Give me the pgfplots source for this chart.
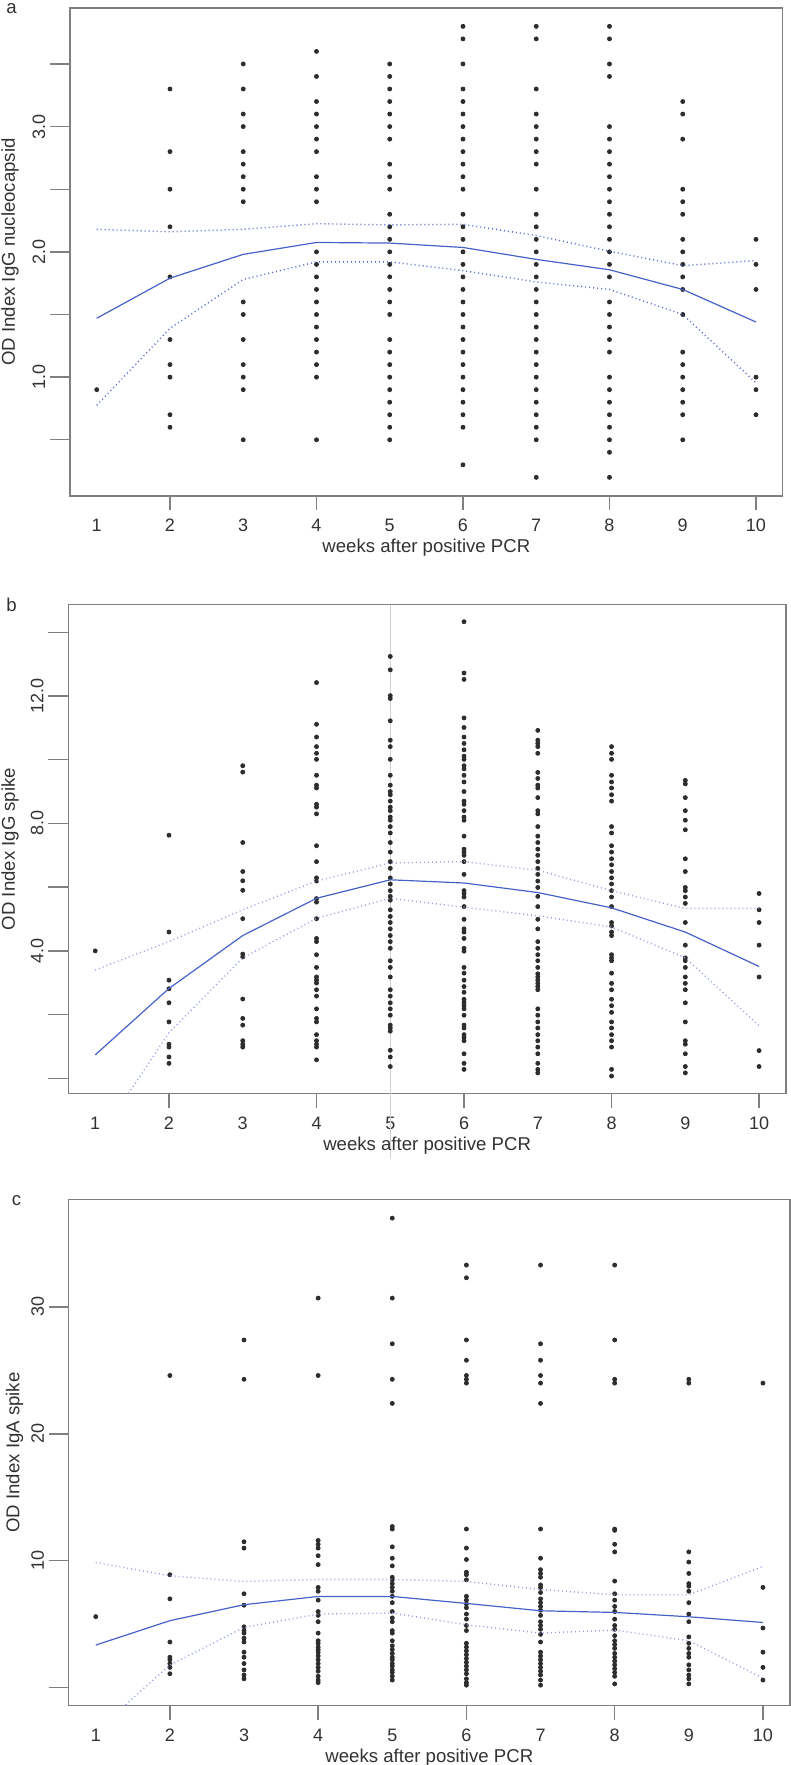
\documentclass[border=0pt]{standalone}
\usepackage{fontspec}
\setmainfont{Liberation Sans}
\usepackage{pgfplots}
\pgfplotsset{compat=1.18}
\definecolor{boxgray}{RGB}{128,128,128}
\definecolor{txtgray}{RGB}{50,50,50}
\definecolor{ptcol}{RGB}{45,45,45}
\definecolor{fitblue}{RGB}{70,98,200}
\definecolor{ciblue}{RGB}{85,105,215}
\definecolor{cilight}{RGB}{150,160,232}
\pgfplotsset{
  rpanel/.style={
    scale only axis,
    xmin=0.635, xmax=10.365,
    clip mode=individual,
    axis line style={draw=boxgray, line width=0.7pt},
    every tick/.style={draw=boxgray, line width=0.7pt},
    tick align=outside,
    tick pos=left,
    major tick length=0pt,
    xtick={1,2,3,4,5,6,7,8,9,10},
    extra x ticks={2,4,6,8,10},
    extra x tick labels={},
    extra x tick style={major tick length=7pt},
    extra y tick labels={},
    extra y tick style={major tick length=10pt},
    /pgf/number format/assume math mode=true,
    tick label style={font=\fontsize{9}{11}\selectfont, text=txtgray, inner sep=0pt},
    xticklabel style={anchor=center, yshift=-14.9pt},
    yticklabel style={anchor=center, xshift=-15.5pt, rotate=90},
    label style={font=\fontsize{9.3}{11}\selectfont, text=txtgray, inner sep=0pt},
    xlabel={weeks after positive PCR},
    xlabel style={at={(axis description cs:0.5,0)}, anchor=center, yshift=-26pt},
  },
  pts/.style={only marks, mark=*, mark size=1pt, color=ptcol, mark options={draw=ptcol, fill=ptcol}},
  fit/.style={fitblue, line width=0.6pt, no markers},
  cia/.style={ciblue, line width=0.7pt, dash pattern=on 0.5pt off 1.5pt, no markers},
  cib/.style={cilight, line width=0.7pt, dash pattern=on 0.5pt off 1.5pt, no markers},
}
\begin{document}
\begin{tikzpicture}
\path[use as bounding box] (0,0) rectangle (395.5pt,-882.5pt);
\node[font=\fontsize{9.3}{11}\selectfont, text=txtgray, inner sep=0pt] at (5.8pt,-4.5pt) {a};
\node[font=\fontsize{9.3}{11}\selectfont, text=txtgray, inner sep=0pt] at (5.8pt,-302.5pt) {b};
\node[font=\fontsize{9.3}{11}\selectfont, text=txtgray, inner sep=0pt] at (8.3pt,-600.2pt) {c};
% ---------------- panel a
\begin{axis}[rpanel, at={(35pt,-247.95pt)}, anchor=south west,
  width=356.35pt, height=243.85pt, ymin=0.052, ymax=3.945,
  ytick={1,2,3}, yticklabels={{1.0},{2.0},{3.0}},
  extra y ticks={0.5,1.0,1.5,2.0,2.5,3.0,3.5},
  ylabel={OD Index IgG nucleocapsid},
  ylabel style={at={(axis description cs:-0.0842,0.5)}, anchor=center}]
\addplot[pts] coordinates {
(1,0.9)
(2,3.3)(2,2.8)(2,2.5)(2,2.2)(2,1.8)(2,1.3)(2,1.1)(2,1.0)(2,0.7)(2,0.6)
(3,3.5)(3,3.3)(3,3.1)(3,3.0)(3,2.8)(3,2.7)(3,2.6)(3,2.5)(3,2.4)(3,1.6)(3,1.5)(3,1.3)(3,1.1)(3,1.0)(3,0.9)(3,0.5)
(4,3.6)(4,3.4)(4,3.2)(4,3.1)(4,3.0)(4,2.9)(4,2.8)(4,2.6)(4,2.5)(4,2.4)(4,2.0)(4,1.9)(4,1.8)(4,1.7)(4,1.6)(4,1.5)(4,1.4)(4,1.3)(4,1.2)(4,1.1)(4,1.0)(4,0.5)
(5,3.5)(5,3.4)(5,3.3)(5,3.2)(5,3.1)(5,3.0)(5,2.9)(5,2.7)(5,2.6)(5,2.5)(5,2.3)(5,2.2)(5,2.1)(5,2.0)(5,1.9)(5,1.8)(5,1.7)(5,1.6)(5,1.5)(5,1.3)(5,1.2)(5,1.1)(5,1.0)(5,0.9)(5,0.8)(5,0.7)(5,0.6)(5,0.5)
(6,3.8)(6,3.7)(6,3.5)(6,3.3)(6,3.2)(6,3.1)(6,3.0)(6,2.9)(6,2.8)(6,2.7)(6,2.6)(6,2.5)(6,2.3)(6,2.2)(6,2.1)(6,2.0)(6,1.9)(6,1.8)(6,1.7)(6,1.6)(6,1.5)(6,1.4)(6,1.3)(6,1.2)(6,1.1)(6,1.0)(6,0.9)(6,0.8)(6,0.7)(6,0.6)(6,0.3)
(7,3.8)(7,3.7)(7,3.3)(7,3.1)(7,3.0)(7,2.9)(7,2.8)(7,2.7)(7,2.5)(7,2.3)(7,2.2)(7,2.1)(7,2.0)(7,1.9)(7,1.8)(7,1.7)(7,1.6)(7,1.5)(7,1.4)(7,1.3)(7,1.2)(7,1.1)(7,1.0)(7,0.9)(7,0.8)(7,0.7)(7,0.6)(7,0.5)(7,0.2)
(8,3.8)(8,3.7)(8,3.5)(8,3.4)(8,3.0)(8,2.9)(8,2.8)(8,2.7)(8,2.6)(8,2.5)(8,2.4)(8,2.3)(8,2.2)(8,2.1)(8,2.0)(8,1.9)(8,1.8)(8,1.6)(8,1.5)(8,1.4)(8,1.3)(8,1.2)(8,1.0)(8,0.9)(8,0.8)(8,0.7)(8,0.6)(8,0.5)(8,0.4)(8,0.2)
(9,3.2)(9,3.1)(9,2.9)(9,2.5)(9,2.4)(9,2.3)(9,2.1)(9,2.0)(9,1.9)(9,1.8)(9,1.7)(9,1.5)(9,1.2)(9,1.1)(9,1.0)(9,0.9)(9,0.8)(9,0.7)(9,0.5)
(10,2.1)(10,1.9)(10,1.7)(10,1.0)(10,0.9)(10,0.7)
};
\addplot[fit] coordinates {(1,1.47)(2,1.79)(3,1.98)(4,2.075)(5,2.07)(6,2.035)(7,1.94)(8,1.857)(9,1.70)(10,1.44)};
\addplot[cia] coordinates {(1,2.18)(2,2.16)(3,2.18)(4,2.225)(5,2.215)(6,2.22)(7,2.13)(8,2.005)(9,1.89)(10,1.93)};
\addplot[cia] coordinates {(1,0.775)(2,1.39)(3,1.78)(4,1.92)(5,1.92)(6,1.85)(7,1.76)(8,1.70)(9,1.50)(10,0.955)};
\end{axis}
% ---------------- panel b
\begin{axis}[rpanel, at={(34.15pt,-546.8pt)}, anchor=south west,
  width=358.85pt, height=244.55pt, ymin=-0.48, ymax=14.87,
  ytick={4,8,12}, yticklabels={{4.0},{8.0},{12.0}},
  extra y ticks={0,2,4,6,8,10,12,14},
  ylabel={OD Index IgG spike},
  ylabel style={at={(axis description cs:-0.0812,0.5)}, anchor=center}]
\draw[black!18, line width=0.4pt] (axis cs:5,14.87) -- (axis cs:5,-2.5);
\addplot[pts] coordinates {
(1,4.0)
(2,7.63)(2,4.59)(2,3.08)(2,2.81)(2,2.37)(2,1.77)(2,1.07)(2,0.98)(2,0.67)(2,0.47)
(3,9.81)(3,9.61)(3,7.40)(3,6.49)(3,6.20)(3,5.90)(3,5.01)(3,3.90)(3,3.81)(3,2.49)(3,1.88)(3,1.67)(3,1.18)(3,1.07)(3,0.98)
(4,12.42)(4,11.11)(4,10.71)(4,10.41)(4,10.20)(4,10.01)(4,9.51)(4,9.20)(4,9.11)(4,8.60)(4,8.51)(4,8.30)(4,7.30)(4,6.80)(4,6.29)(4,6.19)(4,5.64)(4,5.53)(4,5.01)(4,4.39)(4,4.29)(4,3.88)(4,3.48)(4,3.18)(4,3.08)(4,2.99)(4,2.78)(4,2.58)(4,2.18)(4,1.88)(4,1.77)(4,1.37)(4,1.18)(4,1.07)(4,0.98)(4,0.58)
(5,13.24)(5,12.82)(5,12.01)(5,11.92)(5,11.22)(5,10.61)(5,10.41)(5,10.01)(5,9.51)(5,9.20)(5,9.00)(5,8.90)(5,8.70)(5,8.51)(5,8.40)(5,8.20)(5,8.10)(5,7.90)(5,7.70)(5,7.40)(5,7.10)(5,6.80)(5,6.59)(5,6.29)(5,6.10)(5,5.89)(5,5.71)(5,5.59)(5,5.29)(5,5.08)(5,4.89)(5,4.69)(5,4.48)(5,4.29)(5,4.08)(5,3.69)(5,3.48)(5,3.18)(5,2.78)(5,2.58)(5,2.37)(5,2.18)(5,1.98)(5,1.67)(5,1.58)(5,1.48)(5,0.88)(5,0.67)(5,0.37)
(6,14.33)(6,12.72)(6,12.52)(6,11.31)(6,11.01)(6,10.71)(6,10.51)(6,10.31)(6,10.11)(6,10.01)(6,9.81)(6,9.71)(6,9.51)(6,9.30)(6,9.00)(6,8.70)(6,8.60)(6,8.40)(6,8.20)(6,8.10)(6,7.60)(6,7.19)(6,7.10)(6,7.00)(6,6.80)(6,6.40)(6,5.89)(6,5.80)(6,5.69)(6,5.39)(6,4.99)(6,4.69)(6,4.59)(6,4.39)(6,4.08)(6,3.99)(6,3.48)(6,3.30)(6,3.08)(6,2.88)(6,2.70)(6,2.48)(6,2.37)(6,2.28)(6,2.18)(6,1.98)(6,1.67)(6,1.58)(6,1.37)(6,1.28)(6,1.18)(6,0.77)(6,0.47)(6,0.28)
(7,10.92)(7,10.61)(7,10.51)(7,10.41)(7,10.20)(7,9.60)(7,9.41)(7,9.20)(7,9.11)(7,8.81)(7,8.40)(7,8.30)(7,7.90)(7,7.60)(7,7.40)(7,7.19)(7,7.00)(7,6.80)(7,6.59)(7,6.40)(7,6.19)(7,5.99)(7,5.71)(7,5.39)(7,4.99)(7,4.69)(7,4.29)(7,4.08)(7,3.88)(7,3.69)(7,3.48)(7,3.28)(7,3.18)(7,3.08)(7,2.98)(7,2.88)(7,2.78)(7,2.18)(7,1.98)(7,1.77)(7,1.58)(7,1.37)(7,1.18)(7,0.98)(7,0.77)(7,0.47)(7,0.28)(7,0.17)
(8,10.41)(8,10.20)(8,10.01)(8,9.51)(8,9.30)(8,9.11)(8,8.90)(8,8.70)(8,7.90)(8,7.70)(8,7.30)(8,7.10)(8,6.89)(8,6.70)(8,6.49)(8,6.29)(8,6.10)(8,5.89)(8,5.69)(8,5.39)(8,4.89)(8,4.78)(8,4.59)(8,4.48)(8,3.88)(8,3.78)(8,3.69)(8,3.30)(8,2.98)(8,2.78)(8,2.48)(8,2.28)(8,2.07)(8,1.77)(8,1.58)(8,1.37)(8,1.18)(8,0.98)(8,0.28)(8,0.07)
(9,9.35)(9,9.24)(9,8.81)(9,8.40)(9,8.10)(9,7.80)(9,6.89)(9,6.49)(9,5.99)(9,5.89)(9,5.69)(9,5.49)(9,4.89)(9,4.18)(9,3.78)(9,3.69)(9,3.48)(9,3.18)(9,2.98)(9,2.78)(9,2.37)(9,1.77)(9,1.18)(9,1.07)(9,0.77)(9,0.37)(9,0.17)
(10,5.80)(10,5.29)(10,4.89)(10,4.18)(10,3.18)(10,0.87)(10,0.37)
};
\addplot[fit] coordinates {(1,0.735)(2,2.82)(3,4.48)(4,5.65)(5,6.23)(6,6.13)(7,5.83)(8,5.35)(9,4.59)(10,3.51)};
\addplot[cib] coordinates {(1,3.40)(2,4.29)(3,5.29)(4,6.19)(5,6.76)(6,6.80)(7,6.53)(8,5.89)(9,5.33)(10,5.33)};
\addplot[cib] coordinates {(1,-2.04)(2,1.43)(3,3.78)(4,5.02)(5,5.65)(6,5.37)(7,5.10)(8,4.75)(9,3.78)(10,1.65)};
\end{axis}
% ---------------- panel c
\begin{axis}[rpanel, at={(34.35pt,-852.75pt)}, anchor=south west,
  width=360.65pt, height=252.95pt, ymin=-1.405, ymax=38.46,
  ytick={10,20,30}, yticklabels={{10},{20},{30}},
  extra y ticks={0,10,20,30},
  ylabel={OD Index IgA spike},
  ylabel style={at={(axis description cs:-0.075,0.5)}, anchor=center}]
\addplot[pts] coordinates {
(1,5.6)
(2,24.6)(2,8.9)(2,7.0)(2,3.6)(2,2.4)(2,2.2)(2,1.9)(2,1.6)(2,1.1)
(3,27.4)(3,24.3)(3,11.5)(3,11.0)(3,7.4)(3,6.5)(3,4.8)(3,4.5)(3,4.3)(3,3.9)(3,3.6)(3,2.8)(3,2.4)(3,1.9)(3,1.4)(3,1.0)(3,0.7)
(4,30.7)(4,24.6)(4,11.6)(4,11.3)(4,11.0)(4,10.4)(4,9.7)(4,7.9)(4,7.6)(4,6.9)(4,6.0)(4,5.7)(4,5.2)(4,4.3)(4,3.7)(4,3.5)(4,3.2)(4,3.0)(4,2.8)(4,2.5)(4,2.2)(4,1.9)(4,1.6)(4,1.3)(4,0.9)(4,0.6)(4,0.4)
(5,37.0)(5,30.7)(5,27.1)(5,24.3)(5,22.4)(5,12.7)(5,12.5)(5,11.1)(5,10.2)(5,9.6)(5,8.7)(5,8.5)(5,8.2)(5,7.9)(5,7.6)(5,7.2)(5,6.7)(5,6.0)(5,5.5)(5,5.2)(5,4.5)(5,4.3)(5,3.7)(5,3.3)(5,3.0)(5,2.7)(5,2.4)(5,2.2)(5,1.9)(5,1.7)(5,1.4)(5,1.2)(5,0.9)(5,0.6)
(6,33.3)(6,32.3)(6,27.4)(6,25.8)(6,24.6)(6,24.3)(6,24.0)(6,12.5)(6,11.0)(6,10.1)(6,9.1)(6,8.9)(6,8.5)(6,7.2)(6,6.9)(6,6.6)(6,6.3)(6,5.8)(6,5.4)(6,4.9)(6,4.5)(6,3.5)(6,3.2)(6,2.9)(6,2.6)(6,2.3)(6,2.0)(6,1.7)(6,1.4)(6,1.1)(6,0.7)(6,0.4)(6,0.2)
(7,33.3)(7,27.1)(7,25.8)(7,24.6)(7,24.0)(7,22.4)(7,12.5)(7,10.2)(7,9.3)(7,9.0)(7,8.7)(7,8.1)(7,7.9)(7,7.5)(7,7.0)(7,6.7)(7,6.4)(7,6.1)(7,5.7)(7,5.2)(7,4.9)(7,4.6)(7,4.2)(7,3.6)(7,2.8)(7,2.5)(7,2.2)(7,1.9)(7,1.6)(7,1.3)(7,1.0)(7,0.6)(7,0.2)
(8,33.3)(8,27.4)(8,24.3)(8,24.0)(8,12.5)(8,12.4)(8,11.3)(8,10.7)(8,8.4)(8,7.4)(8,6.9)(8,6.4)(8,6.0)(8,5.4)(8,4.9)(8,4.6)(8,4.1)(8,3.7)(8,3.4)(8,3.1)(8,2.7)(8,2.4)(8,2.1)(8,1.8)(8,1.5)(8,1.2)(8,0.9)(8,0.3)
(9,24.3)(9,24.0)(9,10.7)(9,9.9)(9,9.0)(9,8.2)(9,8.0)(9,7.6)(9,6.7)(9,5.8)(9,5.2)(9,4.0)(9,3.5)(9,3.1)(9,2.7)(9,2.4)(9,1.8)(9,1.4)(9,1.0)(9,0.7)(9,0.3)
(10,24.0)(10,7.9)(10,4.7)(10,2.8)(10,1.6)(10,0.6)
};
\addplot[fit] coordinates {(1,3.36)(2,5.28)(3,6.54)(4,7.19)(5,7.19)(6,6.64)(7,6.06)(8,5.93)(9,5.59)(10,5.14)};
\addplot[cib] coordinates {(1,9.87)(2,8.82)(3,8.37)(4,8.53)(5,8.53)(6,8.37)(7,7.74)(8,7.32)(9,7.32)(10,9.55)};
\addplot[cib] coordinates {(1,-3.44)(2,1.78)(3,4.75)(4,5.80)(5,5.88)(6,4.96)(7,4.30)(8,4.54)(9,3.70)(10,0.75)};
\end{axis}
\end{tikzpicture}
\end{document}
